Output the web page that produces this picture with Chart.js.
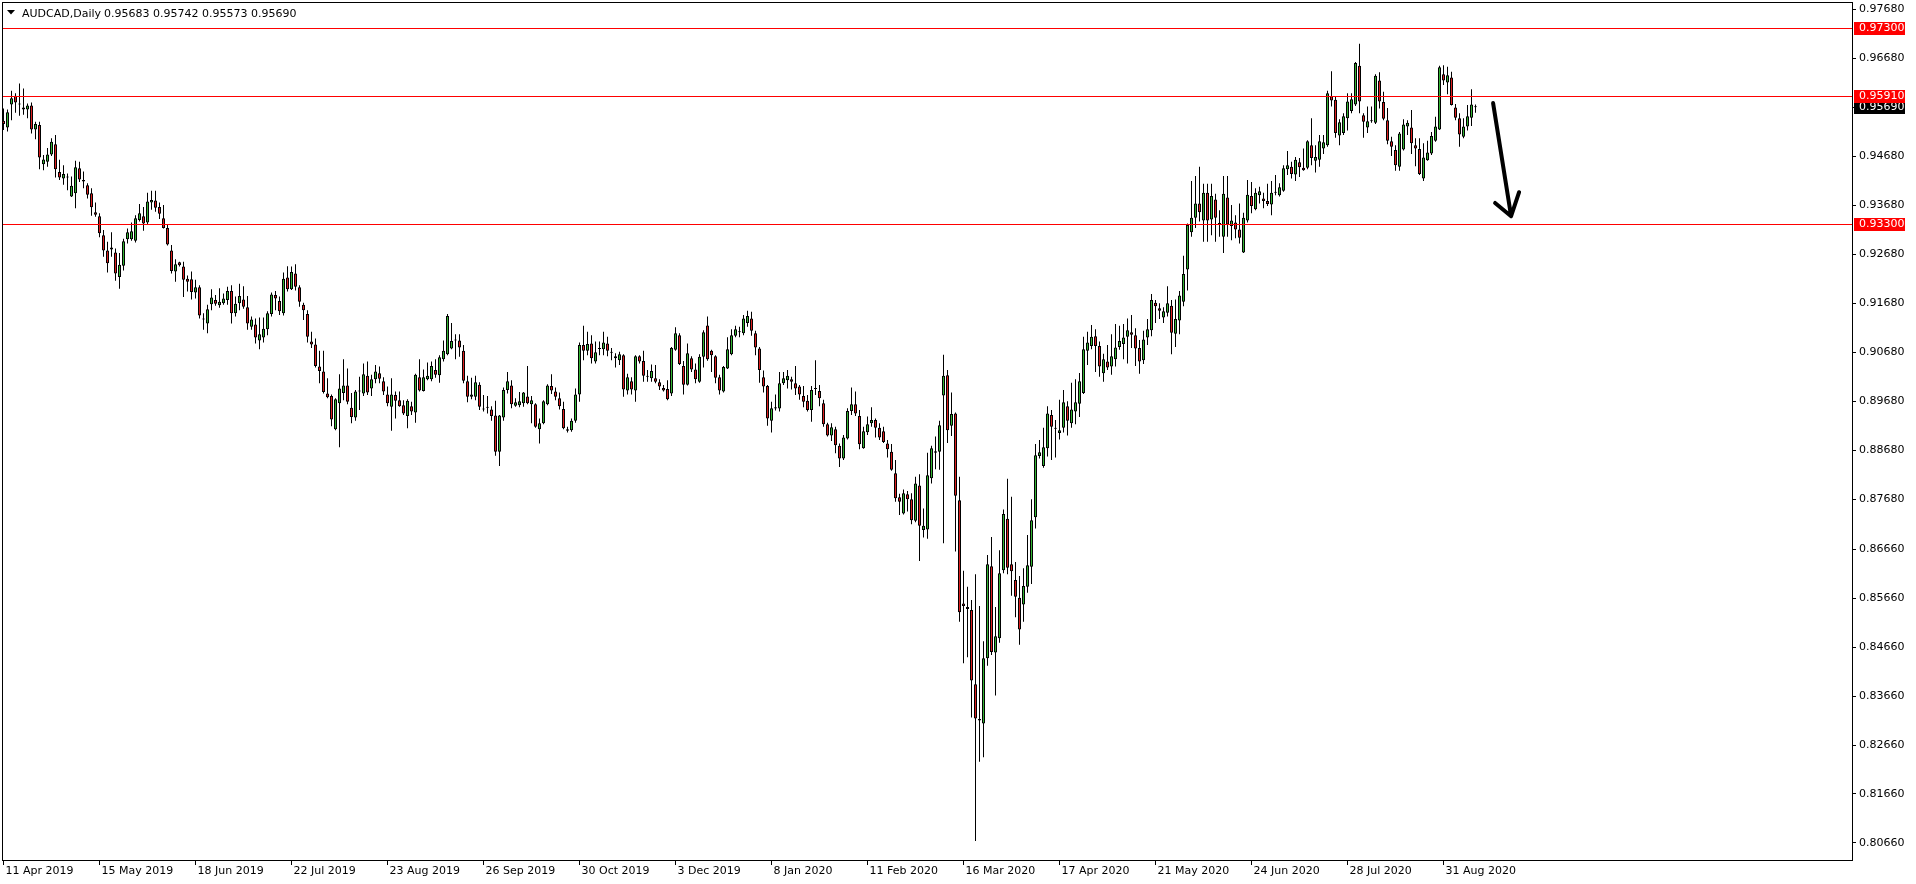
<!DOCTYPE html>
<html><head><meta charset="utf-8">
<script src="https://cdn.jsdelivr.net/npm/chart.js@4/dist/chart.umd.min.js"></script>
<style>html,body{margin:0;padding:0;background:#fff;overflow:hidden}canvas{display:block}</style>
</head><body>
<canvas id="c" width="1916" height="884"></canvas>
<script>
const symbolTitle = 'AUDCAD,Daily';
const lastOHLC = ['0.95683', '0.95742', '0.95573', '0.95690'];

const opens = [
0.9541,0.9527,0.9574,0.9592,0.9575,0.9568,0.9564,0.9572,0.9523,0.9532,
0.9452,0.9457,0.9472,0.9493,0.9436,0.9423,0.9425,0.9386,0.9393,0.9444,
0.9420,0.9409,0.9393,0.9354,0.9346,0.9307,0.9276,0.9282,0.9272,0.9222,
0.9245,0.9299,0.9299,0.9296,0.9338,0.9346,0.9333,0.9374,0.9378,0.9365,
0.9342,0.9322,0.9276,0.9233,0.9252,0.9243,0.9218,0.9217,0.9190,0.9201,
0.9137,0.9127,0.9166,0.9175,0.9164,0.9168,0.9175,0.9193,0.9148,0.9168,
0.9176,0.9160,0.9120,0.9125,0.9092,0.9098,0.9115,0.9146,0.9185,0.9173,
0.9148,0.9221,0.9197,0.9229,0.9201,0.9165,0.9146,0.9090,0.9084,0.9039,
0.9029,0.8984,0.8979,0.8911,0.8964,0.8985,0.9000,0.8955,0.8935,0.8988,
0.8984,0.9020,0.8994,0.9013,0.9025,0.9009,0.8982,0.8957,0.8981,0.8970,
0.8960,0.8938,0.8958,0.8945,0.9017,0.8989,0.9013,0.9013,0.9032,0.9021,
0.9054,0.9064,0.9076,0.9093,0.9092,0.9071,0.9009,0.8977,0.8977,0.9002,
0.8953,0.8955,0.8951,0.8939,0.8865,0.8935,0.8991,0.9000,0.8959,0.8960,
0.8964,0.8978,0.8962,0.8962,0.8911,0.8923,0.8962,0.8999,0.8988,0.8974,
0.8952,0.8911,0.8909,0.8928,0.8982,0.9083,0.9071,0.9086,0.9049,0.9075,
0.9074,0.9086,0.9067,0.9060,0.9052,0.9062,0.8990,0.9009,0.8990,0.9060,
0.9050,0.9018,0.9015,0.9015,0.9007,0.8995,0.8993,0.8984,0.9073,0.9103,
0.9040,0.9002,0.9056,0.9033,0.9008,0.9059,0.9123,0.9071,0.9060,0.9017,
0.8988,0.9035,0.9064,0.9102,0.9109,0.9107,0.9128,0.9137,0.9107,0.9076,
0.9017,0.8999,0.8928,0.8953,0.8953,0.9005,0.9011,0.9013,0.9005,0.8998,
0.8979,0.8969,0.8950,0.8994,0.8989,0.8964,0.8921,0.8898,0.8911,0.8877,
0.8851,0.8892,0.8948,0.8962,0.8938,0.8872,0.8905,0.8923,0.8930,0.8914,
0.8907,0.8882,0.8865,0.8821,0.8772,0.8739,0.8778,0.8768,0.8724,0.8796,
0.8705,0.8706,0.8811,0.8863,0.8865,0.8980,0.9021,0.8918,0.8943,0.8766,
0.8555,0.8548,0.8542,0.8390,0.8319,0.8310,0.8443,0.8631,0.8455,0.8484,
0.8623,0.8728,0.8635,0.8603,0.8567,0.8553,0.8589,0.8630,0.8731,0.8856,
0.8836,0.8872,0.8940,0.8913,0.8903,0.8914,0.8958,0.8923,0.8947,0.8963,
0.8985,0.9071,0.9081,0.9101,0.9081,0.9025,0.9049,0.9039,0.9054,0.9079,
0.9085,0.9100,0.9109,0.9103,0.9077,0.9052,0.9098,0.9113,0.9169,0.9158,
0.9139,0.9149,0.9163,0.9106,0.9133,0.9171,0.9237,0.9313,0.9343,0.9372,
0.9337,0.9394,0.9339,0.9380,0.9331,0.9304,0.9384,0.9326,0.9333,0.9319,
0.9272,0.9337,0.9387,0.9360,0.9389,0.9382,0.9377,0.9370,0.9394,0.9389,
0.9398,0.9442,0.9447,0.9431,0.9456,0.9445,0.9445,0.9491,0.9459,0.9461,
0.9484,0.9491,0.9591,0.9584,0.9511,0.9516,0.9546,0.9561,0.9574,0.9653,
0.9552,0.9527,0.9540,0.9537,0.9623,0.9579,0.9542,0.9499,0.9481,0.9447,
0.9482,0.9529,0.9527,0.9491,0.9483,0.9423,0.9460,0.9474,0.9500,0.9523,
0.9636,0.9619,0.9629,0.9568,0.9546,0.9508,0.9529,0.9547,0.95683];

const highs = [
0.9566,0.9564,0.9602,0.9597,0.9617,0.9607,0.9576,0.9578,0.9539,0.9539,
0.9471,0.9485,0.9505,0.9512,0.9461,0.9450,0.9433,0.9427,0.9459,0.9457,
0.9437,0.9413,0.9403,0.9374,0.9352,0.9318,0.9294,0.9313,0.9280,0.9271,
0.9300,0.9321,0.9333,0.9348,0.9371,0.9365,0.9394,0.9398,0.9398,0.9374,
0.9369,0.9330,0.9287,0.9258,0.9253,0.9253,0.9225,0.9233,0.9216,0.9205,
0.9148,0.9165,0.9197,0.9185,0.9199,0.9188,0.9202,0.9205,0.9182,0.9208,
0.9203,0.9183,0.9141,0.9137,0.9139,0.9139,0.9152,0.9190,0.9193,0.9182,
0.9231,0.9244,0.9243,0.9248,0.9205,0.9169,0.9154,0.9110,0.9096,0.9071,
0.9071,0.9015,0.8982,0.8974,0.9023,0.9054,0.9035,0.8985,0.8991,0.9018,
0.9045,0.9049,0.9022,0.9042,0.9039,0.9017,0.8998,0.9015,0.8988,0.8988,
0.8970,0.8972,0.8967,0.9024,0.9054,0.9033,0.9047,0.9049,0.9054,0.9062,
0.9092,0.9146,0.9128,0.9105,0.9105,0.9083,0.9020,0.9016,0.9020,0.9007,
0.8981,0.8979,0.8958,0.8969,0.8940,0.8996,0.9028,0.9011,0.8974,0.8987,
0.8987,0.9040,0.8979,0.8964,0.8933,0.8970,0.9003,0.9023,0.8996,0.8986,
0.8967,0.8916,0.8933,0.8994,0.9088,0.9122,0.9110,0.9103,0.9090,0.9090,
0.9110,0.9100,0.9077,0.9066,0.9069,0.9064,0.9024,0.9017,0.9062,0.9062,
0.9071,0.9032,0.9043,0.9042,0.9013,0.9001,0.9011,0.9079,0.9119,0.9107,
0.9050,0.9086,0.9060,0.9045,0.9064,0.9113,0.9141,0.9073,0.9062,0.9022,
0.9040,0.9099,0.9115,0.9122,0.9120,0.9144,0.9153,0.9151,0.9112,0.9079,
0.9031,0.9001,0.8967,0.8982,0.9028,0.9028,0.9032,0.9018,0.9040,0.9001,
0.8999,0.8981,0.8999,0.9052,0.9001,0.8971,0.8924,0.8923,0.8916,0.8882,
0.8899,0.8954,0.8996,0.8988,0.8950,0.8916,0.8937,0.8956,0.8933,0.8923,
0.8916,0.8889,0.8881,0.8848,0.8779,0.8788,0.8785,0.8780,0.8814,0.8819,
0.8749,0.8863,0.8877,0.8896,0.8928,0.9063,0.9032,0.8986,0.8945,0.8814,
0.8622,0.8589,0.8562,0.8615,0.8550,0.8478,0.8654,0.8691,0.8548,0.8664,
0.8747,0.8810,0.8773,0.8640,0.8611,0.8627,0.8695,0.8768,0.8881,0.8889,
0.8914,0.8958,0.8950,0.8930,0.8971,0.8991,0.8968,0.9006,0.9013,0.9026,
0.9100,0.9110,0.9124,0.9115,0.9090,0.9065,0.9083,0.9105,0.9126,0.9122,
0.9126,0.9137,0.9144,0.9117,0.9093,0.9112,0.9136,0.9187,0.9175,0.9168,
0.9160,0.9203,0.9175,0.9176,0.9193,0.9265,0.9331,0.9418,0.9428,0.9447,
0.9412,0.9412,0.9412,0.9392,0.9358,0.9428,0.9428,0.9369,0.9348,0.9372,
0.9353,0.9420,0.9416,0.9403,0.9406,0.9394,0.9412,0.9418,0.9430,0.9413,
0.9450,0.9479,0.9457,0.9467,0.9465,0.9484,0.9501,0.9546,0.9491,0.9512,
0.9512,0.9602,0.9642,0.9590,0.9544,0.9556,0.9597,0.9597,0.9661,0.9698,
0.9556,0.9570,0.9570,0.9636,0.9640,0.9600,0.9567,0.9508,0.9491,0.9518,
0.9544,0.9542,0.9563,0.9505,0.9505,0.9495,0.9500,0.9518,0.9549,0.9653,
0.9654,0.9651,0.9641,0.9575,0.9556,0.9546,0.9573,0.9605,0.95742];

const lows = [
0.9522,0.9519,0.9542,0.9557,0.9551,0.9553,0.9546,0.9515,0.9503,0.9442,
0.9440,0.9447,0.9469,0.9425,0.9420,0.9410,0.9399,0.9385,0.9362,0.9416,
0.9403,0.9382,0.9347,0.9345,0.9303,0.9263,0.9231,0.9263,0.9214,0.9198,
0.9235,0.9290,0.9296,0.9292,0.9335,0.9316,0.9330,0.9359,0.9355,0.9340,
0.9321,0.9286,0.9229,0.9212,0.9243,0.9181,0.9192,0.9176,0.9178,0.9137,
0.9114,0.9107,0.9154,0.9163,0.9159,0.9165,0.9165,0.9127,0.9141,0.9154,
0.9157,0.9114,0.9114,0.9086,0.9074,0.9088,0.9103,0.9141,0.9154,0.9144,
0.9143,0.9192,0.9195,0.9194,0.9161,0.9134,0.9088,0.9077,0.9037,0.9005,
0.8984,0.8974,0.8917,0.8909,0.8874,0.8970,0.8962,0.8923,0.8928,0.8950,
0.8979,0.8981,0.8979,0.9005,0.9005,0.8981,0.8958,0.8908,0.8933,0.8957,
0.8940,0.8913,0.8940,0.8924,0.8988,0.8988,0.9011,0.9009,0.9016,0.9006,
0.9049,0.9062,0.9074,0.9054,0.9059,0.9005,0.8966,0.8972,0.8970,0.8950,
0.8947,0.8943,0.8928,0.8857,0.8836,0.8928,0.8984,0.8954,0.8957,0.8956,
0.8957,0.8962,0.8923,0.8914,0.8882,0.8921,0.8960,0.8983,0.8970,0.8951,
0.8911,0.8904,0.8906,0.8924,0.8967,0.9052,0.9062,0.9045,0.9045,0.9062,
0.9062,0.9060,0.9052,0.9037,0.9042,0.8977,0.8982,0.8982,0.8967,0.9045,
0.9008,0.9008,0.9008,0.9005,0.8991,0.8988,0.8970,0.8979,0.9071,0.9042,
0.8982,0.9000,0.9028,0.9005,0.9006,0.9037,0.9051,0.9028,0.9005,0.8982,
0.8986,0.9034,0.9062,0.9099,0.9099,0.9103,0.9120,0.9102,0.9062,0.9006,
0.8986,0.8918,0.8904,0.8949,0.8947,0.9001,0.8994,0.8992,0.8981,0.8971,
0.8956,0.8947,0.8926,0.8981,0.8958,0.8916,0.8896,0.8887,0.8862,0.8834,
0.8848,0.8890,0.8940,0.8938,0.8870,0.8871,0.8899,0.8916,0.8894,0.8889,
0.8883,0.8853,0.8826,0.8763,0.8736,0.8737,0.8743,0.8717,0.8721,0.8642,
0.8690,0.8687,0.8800,0.8829,0.8828,0.8678,0.8883,0.8897,0.8661,0.8518,
0.8433,0.8445,0.8322,0.8070,0.8232,0.8241,0.8428,0.8450,0.8367,0.8475,
0.8617,0.8615,0.8571,0.8527,0.8471,0.8518,0.8577,0.8595,0.8708,0.8851,
0.8832,0.8855,0.8848,0.8853,0.8890,0.8904,0.8898,0.8914,0.8921,0.8936,
0.8983,0.9042,0.9074,0.9028,0.9018,0.9008,0.9032,0.9022,0.9039,0.9073,
0.9054,0.9045,0.9077,0.9040,0.9024,0.9044,0.9083,0.9101,0.9128,0.9136,
0.9128,0.9141,0.9064,0.9079,0.9105,0.9162,0.9194,0.9304,0.9322,0.9335,
0.9294,0.9294,0.9307,0.9294,0.9304,0.9271,0.9304,0.9297,0.9301,0.9290,
0.9271,0.9333,0.9352,0.9358,0.9372,0.9362,0.9367,0.9348,0.9389,0.9386,
0.9396,0.9430,0.9423,0.9418,0.9426,0.9439,0.9442,0.9450,0.9435,0.9447,
0.9473,0.9488,0.9570,0.9506,0.9491,0.9512,0.9521,0.9556,0.9571,0.9556,
0.9506,0.9516,0.9537,0.9534,0.9566,0.9542,0.9493,0.9469,0.9439,0.9439,
0.9480,0.9512,0.9473,0.9448,0.9430,0.9418,0.9459,0.9471,0.9498,0.9522,
0.9614,0.9595,0.9572,0.9542,0.9488,0.9505,0.9521,0.9530,0.95573];

const closes = [
0.9534,0.9558,0.9587,0.9578,0.9574,0.9564,0.9572,0.9523,0.9534,0.9466,
0.9462,0.9472,0.9498,0.9442,0.9425,0.9432,0.9426,0.9408,0.9446,0.9421,
0.9417,0.9390,0.9364,0.9349,0.9311,0.9276,0.9250,0.9278,0.9229,0.9247,
0.9295,0.9313,0.9315,0.9342,0.9352,0.9331,0.9376,0.9379,0.9363,0.9351,
0.9322,0.9288,0.9234,0.9248,0.9246,0.9216,0.9212,0.9191,0.9201,0.9143,
0.9135,0.9156,0.9180,0.9167,0.9171,0.9178,0.9193,0.9148,0.9167,0.9183,
0.9161,0.9127,0.9135,0.9098,0.9105,0.9116,0.9148,0.9186,0.9178,0.9152,
0.9218,0.9197,0.9232,0.9202,0.9171,0.9154,0.9100,0.9084,0.9040,0.9030,
0.8987,0.8976,0.8931,0.8972,0.8994,0.9000,0.8967,0.8936,0.8988,0.8989,
0.9023,0.8986,0.9013,0.9029,0.9014,0.8988,0.8964,0.8982,0.8969,0.8958,
0.8943,0.8969,0.8947,0.9022,0.8990,0.9017,0.9020,0.9040,0.9022,0.9058,
0.9071,0.9142,0.9091,0.9092,0.9078,0.9010,0.8977,0.8982,0.9007,0.8957,
0.8951,0.8955,0.8938,0.8865,0.8939,0.8991,0.9009,0.8962,0.8966,0.8968,
0.8986,0.8964,0.8970,0.8916,0.8923,0.8968,0.9000,0.8990,0.8977,0.8958,
0.8913,0.8908,0.8928,0.8982,0.9083,0.9071,0.9085,0.9056,0.9068,0.9076,
0.9088,0.9071,0.9067,0.9056,0.9064,0.8992,0.9017,0.8992,0.9060,0.9049,
0.9020,0.9018,0.9030,0.9008,0.8998,0.8990,0.8972,0.9077,0.9107,0.9044,
0.9002,0.9066,0.9033,0.9013,0.9059,0.9109,0.9054,0.9062,0.9016,0.8990,
0.9038,0.9074,0.9103,0.9115,0.9109,0.9137,0.9142,0.9112,0.9078,0.9032,
0.8998,0.8933,0.8954,0.8956,0.9005,0.9015,0.9020,0.9008,0.8994,0.8982,
0.8967,0.8950,0.8991,0.8993,0.8974,0.8921,0.8898,0.8915,0.8878,0.8851,
0.8894,0.8948,0.8962,0.8943,0.8880,0.8907,0.8921,0.8930,0.8914,0.8894,
0.8885,0.8870,0.8828,0.8770,0.8763,0.8780,0.8768,0.8725,0.8800,0.8714,
0.8714,0.8817,0.8872,0.8866,0.8919,0.9020,0.8909,0.8942,0.8775,0.8537,
0.8550,0.8544,0.8398,0.8320,0.8316,0.8443,0.8635,0.8456,0.8488,0.8617,
0.8738,0.8628,0.8621,0.8569,0.8502,0.8591,0.8633,0.8725,0.8858,0.8864,
0.8874,0.8943,0.8916,0.8912,0.8909,0.8966,0.8928,0.8951,0.8966,0.9009,
0.9074,0.9088,0.9100,0.9081,0.9039,0.9054,0.9037,0.9060,0.9078,0.9091,
0.9098,0.9113,0.9104,0.9076,0.9049,0.9094,0.9115,0.9175,0.9162,0.9153,
0.9152,0.9168,0.9108,0.9136,0.9184,0.9228,0.9328,0.9343,0.9372,0.9354,
0.9394,0.9337,0.9387,0.9343,0.9330,0.9392,0.9329,0.9337,0.9319,0.9302,
0.9343,0.9390,0.9367,0.9394,0.9397,0.9377,0.9371,0.9394,0.9395,0.9405,
0.9444,0.9450,0.9432,0.9461,0.9446,0.9440,0.9499,0.9465,0.9467,0.9499,
0.9497,0.9597,0.9582,0.9516,0.9538,0.9550,0.9580,0.9585,0.9659,0.9580,
0.9539,0.9540,0.9541,0.9633,0.9580,0.9545,0.9500,0.9488,0.9450,0.9515,
0.9533,0.9537,0.9495,0.9484,0.9432,0.9466,0.9476,0.9510,0.9529,0.9650,
0.9623,0.9634,0.9573,0.9547,0.9513,0.9529,0.9550,0.9574,0.95690];

const xTickBars = [0, 24, 48, 72, 96, 120, 144, 168, 192, 216, 240, 264, 288, 312, 336, 360];
const xTickLabels = ['11 Apr 2019', '15 May 2019', '18 Jun 2019', '22 Jul 2019', '23 Aug 2019',
  '26 Sep 2019', '30 Oct 2019', '3 Dec 2019', '8 Jan 2020', '11 Feb 2020', '16 Mar 2020',
  '17 Apr 2020', '21 May 2020', '24 Jun 2020', '28 Jul 2020', '31 Aug 2020'];
const yTickValues = [0.9768, 0.9668, 0.9568, 0.9468, 0.9368, 0.9268, 0.9168, 0.9068, 0.8968,
  0.8868, 0.8768, 0.8666, 0.8566, 0.8466, 0.8366, 0.8266, 0.8166, 0.8066];
const levelPrices = [0.9730, 0.9591, 0.9330];
const currentPrice = 0.95690;
// hand-drawn arrow annotation, in [bar, price]
const arrowShaft = [[372.4, 0.9577], [376.9, 0.9346]];
const arrowHead = [[372.9, 0.9373], [376.9, 0.9346], [378.9, 0.9395]];

const BULL = '#32b432';
const BEAR = '#dc1e1e';
const FONT = 'DejaVu Sans';

const idx = closes.map((_, i) => i);
const wickData = idx.map(i => ({x: i, y: [lows[i], highs[i]]}));
const bodyData = idx.map(i => ({x: i, y: [opens[i], closes[i]]}));
const bodyColors = idx.map(i => closes[i] >= opens[i] ? BULL : BEAR);

const overlay = {
  id: 'overlay',
  afterDatasetsDraw(chart) {
    const {ctx, chartArea: a, scales: {y}} = chart;
    ctx.save();
    ctx.fillStyle = '#ff0000';
    levelPrices.forEach(p => {
      const py = Math.round(y.getPixelForValue(p));
      ctx.fillRect(a.left, py, a.right - a.left, 1);
    });
    ctx.restore();
  },
  afterDraw(chart) {
    const {ctx, chartArea: a, scales: {x, y}} = chart;
    ctx.save();
    // frame
    ctx.fillStyle = '#000';
    ctx.fillRect(a.left, a.top, a.right - a.left + 1, 1);
    ctx.fillRect(a.left, a.bottom, a.right - a.left + 1, 1);
    ctx.fillRect(a.left, a.top, 1, a.bottom - a.top);
    ctx.fillRect(a.right, a.top, 1, a.bottom - a.top + 1);
    // price boxes
    const box = (p, col) => {
      const py = Math.round(y.getPixelForValue(p));
      ctx.fillStyle = col;
      ctx.fillRect(a.right + 2, py - 6, 51, 13);
      ctx.fillStyle = '#fff';
      ctx.font = '11px "' + FONT + '"';
      ctx.textBaseline = 'middle';
      ctx.textAlign = 'left';
      ctx.fillText(p.toFixed(5), a.right + 7, py + 0.5);
    };
    box(currentPrice, '#000');
    levelPrices.forEach(p => box(p, '#ff0000'));
    // title
    ctx.fillStyle = '#000';
    ctx.beginPath();
    ctx.moveTo(7, 10); ctx.lineTo(15, 10); ctx.lineTo(11, 14.5); ctx.closePath(); ctx.fill();
    ctx.font = '11px "' + FONT + '"';
    ctx.textBaseline = 'alphabetic';
    ctx.textAlign = 'left';
    ctx.fillText(symbolTitle, 22, 16.5);
    ctx.fillText(lastOHLC.join(' '), 104, 16.5);
    // arrow
    const P = pt => [x.getPixelForValue(pt[0]), y.getPixelForValue(pt[1])];
    ctx.strokeStyle = '#000';
    ctx.lineWidth = 4;
    ctx.lineCap = 'round';
    ctx.lineJoin = 'round';
    ctx.beginPath();
    const s0 = P(arrowShaft[0]), s1 = P(arrowShaft[1]);
    ctx.moveTo(s0[0], s0[1]); ctx.lineTo(s1[0], s1[1]);
    const h = arrowHead.map(P);
    ctx.moveTo(h[0][0], h[0][1]); ctx.lineTo(h[1][0], h[1][1]); ctx.lineTo(h[2][0], h[2][1]);
    ctx.stroke();
    ctx.restore();
  }
};

Chart.defaults.font.family = FONT;
Chart.defaults.font.size = 11;
Chart.defaults.color = '#000';

new Chart(document.getElementById('c'), {
  type: 'bar',
  data: {
    datasets: [
      {label: 'wick', data: wickData, backgroundColor: '#000', borderWidth: 0,
       barThickness: 1, grouped: false, order: 2, inflateAmount: 0},
      {label: 'body', data: bodyData, backgroundColor: bodyColors, borderColor: '#000',
       borderWidth: 1, borderSkipped: false, barThickness: 3, grouped: false, order: 1,
       minBarLength: 1, inflateAmount: 0}
    ]
  },
  options: {
    responsive: false,
    animation: false,
    events: [],
    layout: {padding: {left: 2, top: 2, right: 0, bottom: 0}},
    plugins: {legend: {display: false}, tooltip: {enabled: false}},
    scales: {
      x: {
        type: 'linear', position: 'bottom', min: -0.375, max: 462.125, offset: false,
        afterFit(s) { s.height = 24; s.paddingLeft = 0; s.paddingRight = 0; },
        afterBuildTicks(s) { s.ticks = xTickBars.map(v => ({value: v})); },
        grid: {drawOnChartArea: false, drawTicks: true, tickLength: 5, color: '#000', tickColor: '#000', offset: false},
        border: {display: false},
        ticks: {autoSkip: false, maxRotation: 0, minRotation: 0, align: 'start', padding: 0, labelOffset: 2,
                color: '#000', font: {family: FONT, size: 11},
                callback: (v, i) => xTickLabels[i]}
      },
      y: {
        type: 'linear', position: 'right', min: 0.80312, max: 0.97834,
        afterFit(s) { s.width = 64; s.paddingTop = 0; s.paddingBottom = 0; },
        afterBuildTicks(s) { s.ticks = yTickValues.map(v => ({value: v})); },
        grid: {drawOnChartArea: false, drawTicks: true, tickLength: 4, color: '#000', tickColor: '#000'},
        border: {display: false},
        ticks: {autoSkip: false, padding: 3, color: '#000', font: {family: FONT, size: 11},
                callback: v => v.toFixed(5)}
      }
    }
  },
  plugins: [overlay]
});
</script>
</body></html>
